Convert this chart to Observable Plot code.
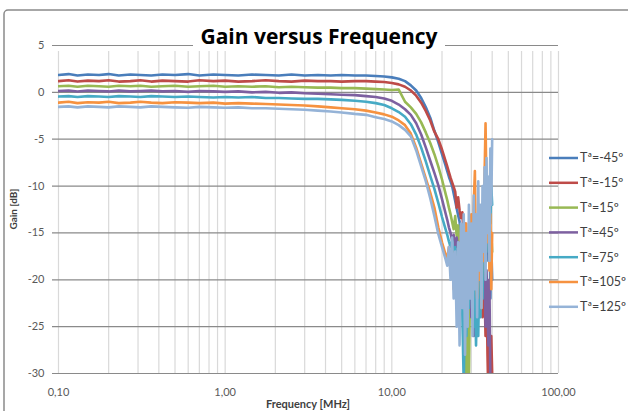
<!DOCTYPE html>
<html><head><meta charset="utf-8">
<script src="https://cdn.jsdelivr.net/npm/d3@7"></script>
<script src="https://cdn.jsdelivr.net/npm/@observablehq/plot@0.6"></script>
<style>
html,body{margin:0;padding:0;background:#fff;}
#chart{width:628px;height:411px;overflow:hidden;position:relative;}
</style></head><body><div id="chart"></div>
<script>
// Frequency samples (MHz)
const freq = [0.1, 0.115, 0.13, 0.15, 0.175, 0.2, 0.23, 0.27, 0.31, 0.36, 0.42, 0.5, 0.6, 0.7, 0.85, 1, 1.2, 1.45, 1.75, 2.1, 2.5, 3, 3.6, 4.3, 5, 6,
  7, 8, 9, 10, 11, 12, 13, 14, 15, 16, 17, 18, 19, 20, 21,
  21.5, 22, 22.5, 23, 23.5, 24, 24.5, 25, 25.5, 26, 26.5, 27, 27.5, 28, 28.5, 29, 29.5, 30, 30.5, 31,
  31.5, 32, 32.5, 33, 33.5, 34, 34.5, 35, 35.5, 36, 36.5, 37, 37.5, 38, 38.5, 39, 39.5, 40];

const seriesNames = ["Tª=-45º", "Tª=-15º", "Tª=15º", "Tª=45º", "Tª=75º", "Tª=105º", "Tª=125º"];
const seriesColors = ["#4A7EBB", "#BE4B48", "#98B954", "#7D60A0", "#46AAC5", "#F69240", "#95B3D7"];

const gainM45 = [1.85, 1.95, 1.8, 1.9, 1.85, 1.95, 1.8, 1.9, 1.85, 1.8, 1.9, 1.85, 1.95, 1.8, 1.9, 1.85, 1.8, 1.9, 1.85, 1.8, 1.9, 1.8, 1.85, 1.8, 1.85, 1.8,
  1.8, 1.75, 1.7, 1.6, 1.45, 1.2, 0.75, 0.2, -0.6, -1.6, -2.7, -4.1, -5.3, -6.6, -7.8,
  -8.4, -9.0, -9.5, -10.0, -10.8, -11.6, -12.4, -13.1, -13.8, -15.5, -14.5, -17, -15.5, -19, -16, -21, -17.5, -20, -16.5, -22,
  -18, -24, -17, -21, -15, -19, -14, -20, -14, -17, -13, -15, -12, -18, -12, -22, -16, -20];

const gainM15 = [1.2, 1.3, 1.15, 1.25, 1.2, 1.3, 1.15, 1.2, 1.3, 1.15, 1.25, 1.2, 1.15, 1.3, 1.2, 1.25, 1.15, 1.2, 1.3, 1.2, 1.15, 1.25, 1.2, 1.2, 1.15, 1.2,
  1.2, 1.15, 1.1, 1.0, 0.85, 0.6, 0.2, -0.35, -1.1, -2.0, -3.0, -4.2, -5.0, -6.1, -7.3,
  -7.9, -8.5, -9.1, -9.6, -10.1, -10.6, -12.3, -11.2, -12.6, -13.4, -12.8, -15.5, -14, -17.5, -15, -19.5, -16.5, -21, -16, -19,
  -15, -21, -17, -23, -16, -20, -15, -24, -18, -21, -26, -20, -28, -33, -24, -33, -26, -30];

const gainP15 = [0.65, 0.7, 0.6, 0.7, 0.65, 0.6, 0.7, 0.65, 0.7, 0.6, 0.65, 0.7, 0.6, 0.65, 0.7, 0.6, 0.65, 0.6, 0.65, 0.55, 0.6, 0.55, 0.5, 0.5, 0.45, 0.45,
  0.4, 0.35, 0.3, 0.25, 0.3, -1.0, -1.6, -2.3, -3.2, -4.3, -5.4, -6.6, -7.9, -9.3, -10.8,
  -11.5, -12.3, -13, -13.8, -14.6, -13.2, -15.3, -14.2, -16.5, -14.8, -18, -16, -22, -31, -20, -31, -19, -22, -16, -20,
  -15, -19, -14, -21, -16, -18, -13, -17, -12, -16, -11, -15, -10, -14, -12, -18, -15, -17];

const gainP45 = [0.15, 0.2, 0.1, 0.2, 0.15, 0.1, 0.2, 0.1, 0.15, 0.2, 0.1, 0.15, 0.05, 0.15, 0.1, 0.05, 0.1, 0.0, 0.05, -0.05, 0.0, -0.1, -0.15, -0.2, -0.25, -0.3,
  -0.4, -0.5, -0.65, -0.9, -1.3, -1.8, -2.4, -3.3, -4.5, -5.9, -7.3, -8.6, -9.9, -11.4, -12.9,
  -13.6, -14.4, -15.0, -15.8, -15.2, -16.5, -15.5, -17.5, -16, -20, -17, -23, -18, -25, -19, -22, -18, -24, -20, -26,
  -19, -22, -21.5, -18, -23, -17, -21, -16, -22, -18, -25, -19, -23, -27, -20, -31, -34, -33];

const gainP75 = [-0.45, -0.4, -0.5, -0.4, -0.45, -0.5, -0.4, -0.45, -0.5, -0.4, -0.45, -0.5, -0.45, -0.5, -0.55, -0.5, -0.55, -0.5, -0.6, -0.6, -0.65, -0.7, -0.7, -0.75, -0.8, -0.9,
  -1.0, -1.15, -1.35, -1.7, -2.1, -2.6, -3.4, -4.5, -5.9, -7.4, -8.9, -10.3, -11.8, -13.3, -14.6,
  -15.2, -15.9, -16.5, -15.8, -17.5, -16.5, -19, -17, -21, -18, -24, -31, -22, -26, -19, -23, -18, -21, -17, -25,
  -20, -27, -21, -26, -19, -24, -18, -22, -15, -19, -13, -17, -11, -15, -9, -14, -10, -12];

const gainP105 = [-1.1, -1.0, -1.15, -1.05, -1.1, -1.0, -1.15, -1.1, -1.0, -1.1, -1.15, -1.05, -1.1, -1.15, -1.1, -1.2, -1.15, -1.2, -1.25, -1.3, -1.35, -1.4, -1.5, -1.6, -1.7, -1.8,
  -1.95, -2.15, -2.35, -2.6, -3.0, -3.5, -4.4, -5.9, -7.6, -9.2, -10.7, -12.3, -14.4, -16.0, -17.3,
  -17.8, -16.5, -19, -17, -21, -18, -23, -17, -20, -15, -22, -16, -19, -14, -21, -15, -18, -13, -20, -12,
  -8.4, -18, -22, -14, -20, -16, -23, -12, -18, -9, -3.3, -11, -16, -10, -19, -13, -21, -15];

const gainP125 = [-1.55, -1.5, -1.6, -1.5, -1.55, -1.6, -1.5, -1.55, -1.6, -1.5, -1.55, -1.6, -1.65, -1.55, -1.6, -1.65, -1.6, -1.7, -1.7, -1.75, -1.8, -1.85, -1.95, -2.05, -2.15, -2.3,
  -2.4, -2.65, -2.85, -3.1, -3.5, -4.0, -4.7, -6.2, -7.9, -9.5, -11.3, -13.2, -15.1, -16.5, -17.8,
  -18.5, -16.5, -20, -15.5, -22, -17, -25, -16, -27, -14, -23, -13, -28, -15, -25, -12, -22, -14, -26, -11,
  -21, -13, -24, -9.5, -19, -12, -23, -10, -17, -8, -20, -7, -15, -9, -18, -6, -12, -5];

const xTickValues = [0.1, 1, 10, 100];
const xTickLabels = ["0,10", "1,00", "10,00", "100,00"];
const yTickValues = [5, 0, -5, -10, -15, -20, -25, -30];
const xGridValues = [0.1, 0.2, 0.3, 0.4, 0.5, 0.6, 0.7, 0.8, 0.9,
  1, 2, 3, 4, 5, 6, 7, 8, 9,
  10, 20, 30, 40, 50, 60, 70, 80, 90, 100];

const titleText = "Gain versus Frequency";
const xLabel = "Frequency [MHz]";
const yLabel = "Gain [dB]";

const seriesValues = [gainM45, gainM15, gainP15, gainP45, gainP75, gainP105, gainP125];
const rows = [];
seriesValues.forEach((vals, s) => vals.forEach((v, i) => rows.push({f: freq[i], g: v, s: seriesNames[s]})));

const FONT = "Lato, 'Open Sans', sans-serif";
const W = 628, H = 411;

const plot = Plot.plot({
  width: W, height: H,
  marginLeft: 58, marginRight: 70, marginTop: 45, marginBottom: 38,
  x: {type: "log", domain: [0.1, 100], axis: null},
  y: {domain: [-30, 5], axis: null},
  color: {domain: seriesNames, range: seriesColors},
  style: {fontFamily: FONT, background: "white", overflow: "visible"},
  marks: [
    Plot.ruleX(xGridValues, {x: d => d, y1: -30, y2: 5, stroke: "#d9d9d9", strokeWidth: 1.2, insetBottom: -6}),
    Plot.ruleY(yTickValues, {y: d => d, x1: 0.1, x2: 100, stroke: "#8a8a8a", strokeWidth: 1.2, insetLeft: -6}),
    Plot.lineY(rows, {x: "f", y: "g", z: "s", stroke: "s", strokeWidth: 2.6, clip: true}),
    Plot.text(yTickValues, {x: 0.1, y: d => d, text: d => String(d), textAnchor: "end", dx: -14, fill: "#595959", fontSize: 11}),
    Plot.text(xTickValues, {x: d => d, y: -30, text: (d, i) => xTickLabels[i], dy: 19, fill: "#595959", fontSize: 11})
  ]
});

document.getElementById("chart").appendChild(plot);
const svg = d3.select(plot);

// chart border
svg.append("rect").attr("x", 4).attr("y", 10).attr("width", 700).attr("height", 500).attr("rx", 4)
  .attr("fill", "none").attr("stroke", "#8a8a8a").attr("stroke-width", 1.5);

// title
svg.append("rect").attr("x", 193).attr("y", 40).attr("width", 252).attr("height", 9).attr("fill", "white");
svg.append("text").attr("x", 319).attr("y", 44).attr("text-anchor", "middle")
  .attr("font-family", "'Open Sans', Lato, sans-serif").attr("font-weight", "bold").attr("font-size", 21).attr("fill", "#000")
  .text(titleText);

// axis titles
svg.append("text").attr("x", 308).attr("y", 408).attr("text-anchor", "middle")
  .attr("font-family", FONT).attr("font-weight", "bold").attr("font-size", 11).attr("fill", "#404040")
  .text(xLabel);
svg.append("text").attr("transform", "translate(17,209) rotate(-90)").attr("text-anchor", "middle")
  .attr("font-family", FONT).attr("font-weight", "bold").attr("font-size", 10).attr("fill", "#404040")
  .text(yLabel);

// legend
const lg = svg.append("g");
seriesNames.forEach((name, i) => {
  const y = 158 + i * 24.8;
  lg.append("line").attr("x1", 549).attr("x2", 578).attr("y1", y).attr("y2", y)
    .attr("stroke", seriesColors[i]).attr("stroke-width", 2.5);
  lg.append("text").attr("x", 580).attr("y", y).attr("dy", "0.35em").attr("text-anchor", "start")
    .attr("font-family", FONT).attr("font-size", 12.5).attr("fill", "#404040").text(name);
});
</script></body></html>
